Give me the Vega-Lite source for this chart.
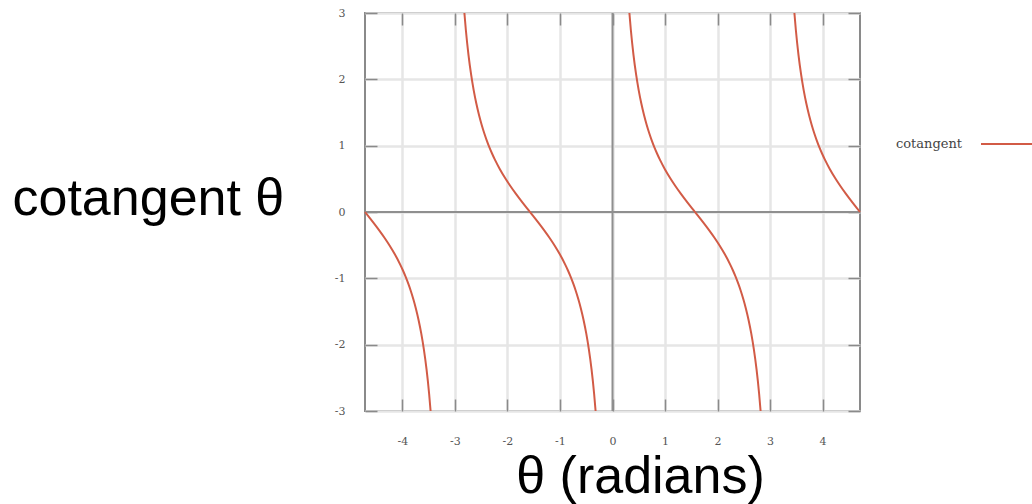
{
  "$schema": "https://vega.github.io/schema/vega-lite/v6.json",
  "width": 495,
  "height": 398,
  "autosize": "none",
  "padding": {"left": 365, "top": 13, "right": 172, "bottom": 93},
  "background": "white",
  "config": {
    "view": {"stroke": "#8a8a8a", "strokeWidth": 2},
    "axis": {
      "domain": false,
      "labelFont": "DejaVu Serif",
      "labelFontSize": 11,
      "labelColor": "#555555",
      "tickColor": "#8a8a8a",
      "tickWidth": 1.5,
      "gridColor": "#e6e6e6",
      "gridWidth": 2.5
    }
  },
  "datasets": {
    "curve": [
      {"branch": 1, "theta": -4.7124, "cot": 0},
      {"branch": 1, "theta": -4.6416, "cot": -0.0709},
      {"branch": 1, "theta": -4.5416, "cot": -0.1725},
      {"branch": 1, "theta": -4.4416, "cot": -0.2776},
      {"branch": 1, "theta": -4.3416, "cot": -0.3888},
      {"branch": 1, "theta": -4.2416, "cot": -0.509},
      {"branch": 1, "theta": -4.1416, "cot": -0.6421},
      {"branch": 1, "theta": -4.0416, "cot": -0.7936},
      {"branch": 1, "theta": -3.9916, "cot": -0.8785},
      {"branch": 1, "theta": -3.9416, "cot": -0.9712},
      {"branch": 1, "theta": -3.8916, "cot": -1.0734},
      {"branch": 1, "theta": -3.8416, "cot": -1.1872},
      {"branch": 1, "theta": -3.7916, "cot": -1.3155},
      {"branch": 1, "theta": -3.7416, "cot": -1.4617},
      {"branch": 1, "theta": -3.6916, "cot": -1.631},
      {"branch": 1, "theta": -3.6416, "cot": -1.8305},
      {"branch": 1, "theta": -3.5916, "cot": -2.0701},
      {"branch": 1, "theta": -3.5416, "cot": -2.3652},
      {"branch": 1, "theta": -3.4916, "cot": -2.7395},
      {"branch": 1, "theta": -3.4634, "cot": -3.0},
      {"branch": 2, "theta": -2.8198, "cot": 3.0},
      {"branch": 2, "theta": -2.7916, "cot": 2.7395},
      {"branch": 2, "theta": -2.7416, "cot": 2.3652},
      {"branch": 2, "theta": -2.6916, "cot": 2.0701},
      {"branch": 2, "theta": -2.6416, "cot": 1.8305},
      {"branch": 2, "theta": -2.5916, "cot": 1.631},
      {"branch": 2, "theta": -2.5416, "cot": 1.4617},
      {"branch": 2, "theta": -2.4916, "cot": 1.3155},
      {"branch": 2, "theta": -2.4416, "cot": 1.1872},
      {"branch": 2, "theta": -2.3916, "cot": 1.0734},
      {"branch": 2, "theta": -2.3416, "cot": 0.9712},
      {"branch": 2, "theta": -2.2916, "cot": 0.8785},
      {"branch": 2, "theta": -2.2416, "cot": 0.7936},
      {"branch": 2, "theta": -2.1416, "cot": 0.6421},
      {"branch": 2, "theta": -2.0416, "cot": 0.509},
      {"branch": 2, "theta": -1.9416, "cot": 0.3888},
      {"branch": 2, "theta": -1.8416, "cot": 0.2776},
      {"branch": 2, "theta": -1.7416, "cot": 0.1725},
      {"branch": 2, "theta": -1.6416, "cot": 0.0709},
      {"branch": 2, "theta": -1.5708, "cot": 0},
      {"branch": 2, "theta": -1.5, "cot": -0.0709},
      {"branch": 2, "theta": -1.4, "cot": -0.1725},
      {"branch": 2, "theta": -1.3, "cot": -0.2776},
      {"branch": 2, "theta": -1.2, "cot": -0.3888},
      {"branch": 2, "theta": -1.1, "cot": -0.509},
      {"branch": 2, "theta": -1.0, "cot": -0.6421},
      {"branch": 2, "theta": -0.9, "cot": -0.7936},
      {"branch": 2, "theta": -0.85, "cot": -0.8785},
      {"branch": 2, "theta": -0.8, "cot": -0.9712},
      {"branch": 2, "theta": -0.75, "cot": -1.0734},
      {"branch": 2, "theta": -0.7, "cot": -1.1872},
      {"branch": 2, "theta": -0.65, "cot": -1.3155},
      {"branch": 2, "theta": -0.6, "cot": -1.4617},
      {"branch": 2, "theta": -0.55, "cot": -1.631},
      {"branch": 2, "theta": -0.5, "cot": -1.8305},
      {"branch": 2, "theta": -0.45, "cot": -2.0701},
      {"branch": 2, "theta": -0.4, "cot": -2.3652},
      {"branch": 2, "theta": -0.35, "cot": -2.7395},
      {"branch": 2, "theta": -0.3218, "cot": -3.0},
      {"branch": 3, "theta": 0.3218, "cot": 3.0},
      {"branch": 3, "theta": 0.35, "cot": 2.7395},
      {"branch": 3, "theta": 0.4, "cot": 2.3652},
      {"branch": 3, "theta": 0.45, "cot": 2.0701},
      {"branch": 3, "theta": 0.5, "cot": 1.8305},
      {"branch": 3, "theta": 0.55, "cot": 1.631},
      {"branch": 3, "theta": 0.6, "cot": 1.4617},
      {"branch": 3, "theta": 0.65, "cot": 1.3155},
      {"branch": 3, "theta": 0.7, "cot": 1.1872},
      {"branch": 3, "theta": 0.75, "cot": 1.0734},
      {"branch": 3, "theta": 0.8, "cot": 0.9712},
      {"branch": 3, "theta": 0.85, "cot": 0.8785},
      {"branch": 3, "theta": 0.9, "cot": 0.7936},
      {"branch": 3, "theta": 1.0, "cot": 0.6421},
      {"branch": 3, "theta": 1.1, "cot": 0.509},
      {"branch": 3, "theta": 1.2, "cot": 0.3888},
      {"branch": 3, "theta": 1.3, "cot": 0.2776},
      {"branch": 3, "theta": 1.4, "cot": 0.1725},
      {"branch": 3, "theta": 1.5, "cot": 0.0709},
      {"branch": 3, "theta": 1.5708, "cot": 0},
      {"branch": 3, "theta": 1.6416, "cot": -0.0709},
      {"branch": 3, "theta": 1.7416, "cot": -0.1725},
      {"branch": 3, "theta": 1.8416, "cot": -0.2776},
      {"branch": 3, "theta": 1.9416, "cot": -0.3888},
      {"branch": 3, "theta": 2.0416, "cot": -0.509},
      {"branch": 3, "theta": 2.1416, "cot": -0.6421},
      {"branch": 3, "theta": 2.2416, "cot": -0.7936},
      {"branch": 3, "theta": 2.2916, "cot": -0.8785},
      {"branch": 3, "theta": 2.3416, "cot": -0.9712},
      {"branch": 3, "theta": 2.3916, "cot": -1.0734},
      {"branch": 3, "theta": 2.4416, "cot": -1.1872},
      {"branch": 3, "theta": 2.4916, "cot": -1.3155},
      {"branch": 3, "theta": 2.5416, "cot": -1.4617},
      {"branch": 3, "theta": 2.5916, "cot": -1.631},
      {"branch": 3, "theta": 2.6416, "cot": -1.8305},
      {"branch": 3, "theta": 2.6916, "cot": -2.0701},
      {"branch": 3, "theta": 2.7416, "cot": -2.3652},
      {"branch": 3, "theta": 2.7916, "cot": -2.7395},
      {"branch": 3, "theta": 2.8198, "cot": -3.0},
      {"branch": 4, "theta": 3.4634, "cot": 3.0},
      {"branch": 4, "theta": 3.4916, "cot": 2.7395},
      {"branch": 4, "theta": 3.5416, "cot": 2.3652},
      {"branch": 4, "theta": 3.5916, "cot": 2.0701},
      {"branch": 4, "theta": 3.6416, "cot": 1.8305},
      {"branch": 4, "theta": 3.6916, "cot": 1.631},
      {"branch": 4, "theta": 3.7416, "cot": 1.4617},
      {"branch": 4, "theta": 3.7916, "cot": 1.3155},
      {"branch": 4, "theta": 3.8416, "cot": 1.1872},
      {"branch": 4, "theta": 3.8916, "cot": 1.0734},
      {"branch": 4, "theta": 3.9416, "cot": 0.9712},
      {"branch": 4, "theta": 3.9916, "cot": 0.8785},
      {"branch": 4, "theta": 4.0416, "cot": 0.7936},
      {"branch": 4, "theta": 4.1416, "cot": 0.6421},
      {"branch": 4, "theta": 4.2416, "cot": 0.509},
      {"branch": 4, "theta": 4.3416, "cot": 0.3888},
      {"branch": 4, "theta": 4.4416, "cot": 0.2776},
      {"branch": 4, "theta": 4.5416, "cot": 0.1725},
      {"branch": 4, "theta": 4.6416, "cot": 0.0709},
      {"branch": 4, "theta": 4.7124, "cot": 0}
    ]
  },
  "layer": [
    {
      "data": {"values": [{"x0": 0}]},
      "mark": {"type": "rule", "color": "#8f8f8f", "strokeWidth": 2},
      "encoding": {
        "x": {
          "field": "x0", "type": "quantitative",
          "scale": {"domain": [-4.7124, 4.7124], "nice": false, "zero": false},
          "axis": {"orient": "top", "title": null, "labels": false, "grid": false, "values": [-4, -3, -2, -1, 0, 1, 2, 3, 4], "tickSize": -12}
        }
      }
    },
    {
      "data": {"values": [{"y0": 0}]},
      "mark": {"type": "rule", "color": "#8f8f8f", "strokeWidth": 2},
      "encoding": {
        "y": {
          "field": "y0", "type": "quantitative",
          "scale": {"domain": [-3, 3], "nice": false},
          "axis": {"orient": "right", "title": null, "labels": false, "grid": false, "values": [-3, -2, -1, 0, 1, 2, 3], "tickSize": -12}
        }
      }
    },
    {
      "data": {"name": "curve"},
      "mark": {"type": "line", "strokeWidth": 2, "interpolate": "monotone"},
      "encoding": {
        "x": {
          "field": "theta", "type": "quantitative",
          "scale": {"domain": [-4.7124, 4.7124], "nice": false, "zero": false},
          "axis": {
            "orient": "bottom",
            "grid": true,
            "values": [-4, -3, -2, -1, 0, 1, 2, 3, 4],
            "labelExpr": "toString(datum.value)",
            "tickSize": -12,
            "labelPadding": 36,
            "title": "θ (radians)",
            "titleFont": "Liberation Sans",
            "titleFontSize": 52,
            "titleFontWeight": "normal",
            "titleColor": "#000000",
            "titleX": 275,
            "titleY": 81,
            "titleAlign": "center",
            "titleBaseline": "alphabetic"
          }
        },
        "y": {
          "field": "cot", "type": "quantitative",
          "scale": {"domain": [-3, 3], "nice": false},
          "axis": {
            "orient": "left",
            "grid": true,
            "values": [-3, -2, -1, 0, 1, 2, 3],
            "labelExpr": "toString(datum.value)",
            "tickSize": -12,
            "labelPadding": 32,
            "title": "cotangent θ",
            "titleFont": "Liberation Sans",
            "titleFontSize": 52,
            "titleFontWeight": "normal",
            "titleColor": "#000000",
            "titleAngle": 0,
            "titleX": -353,
            "titleY": 201,
            "titleAlign": "left",
            "titleBaseline": "alphabetic"
          }
        },
        "color": {
          "datum": "cotangent",
          "type": "nominal",
          "scale": {"domain": ["cotangent"], "range": ["#d25b46"]},
          "legend": {
            "title": null,
            "orient": "none",
            "legendX": 615,
            "legendY": 100,
            "padding": 0,
            "symbolType": "stroke",
            "symbolSize": 3600,
            "symbolStrokeWidth": 2,
            "labelAlign": "right",
            "labelOffset": -80,
            "labelFont": "DejaVu Serif",
            "labelFontSize": 13,
            "labelColor": "#444444"
          }
        },
        "detail": {"field": "branch", "type": "nominal"}
      }
    }
  ],
  "resolve": {"axis": {"x": "independent", "y": "independent"}}
}
